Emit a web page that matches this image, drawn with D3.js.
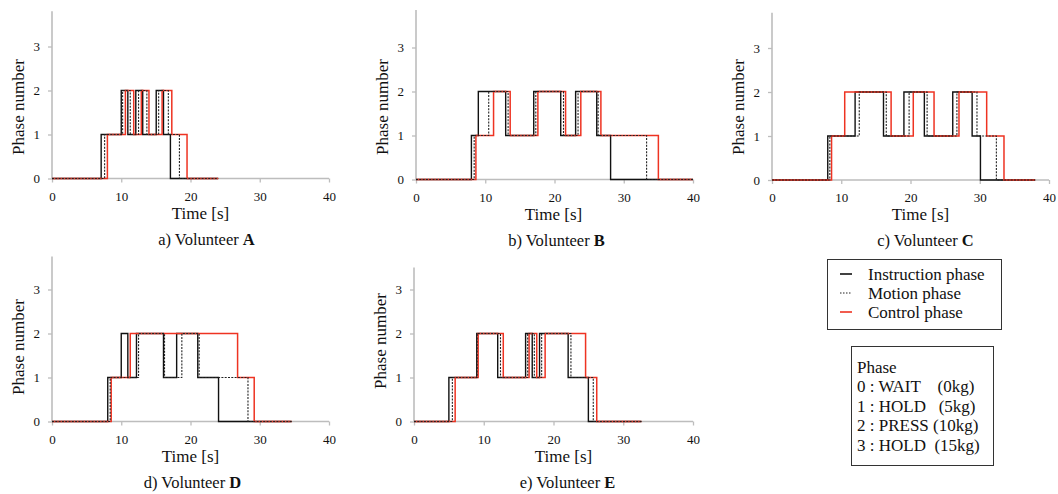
<!DOCTYPE html>
<html><head><meta charset="utf-8">
<script src="https://cdn.jsdelivr.net/npm/d3@7"></script>
<style>
body{margin:0;background:#fff;}
text{font-family:"Liberation Serif","Times New Roman",serif;fill:#111;}
</style></head>
<body><svg id="c" width="1058" height="494"></svg>
<script>
// ---- data: [time (s), phase number] step points ----
const volunteers = ["A", "B", "C", "D", "E"];
const xTicks = [0, 10, 20, 30, 40];
const yTicks = [0, 1, 2, 3];
const seriesNames = ["Instruction phase", "Motion phase", "Control phase"];
const phaseLegend = ["Phase", "0 : WAIT    (0kg)", "1 : HOLD   (5kg)", "2 : PRESS (10kg)", "3 : HOLD  (15kg)"];

const instructionA = [[0,0],[7.1,1],[10.0,2],[10.95,1],[12.1,2],[13.1,1],[15.05,2],[16.1,1],[17.1,0],[24,0]];
const motionA      = [[0,0],[7.6,1],[10.2,2],[11.3,1],[12.5,2],[13.7,1],[15.4,2],[16.8,1],[18.4,0],[24,0]];
const controlA     = [[0,0],[8.0,1],[10.6,2],[11.8,1],[12.9,2],[14.0,1],[15.9,2],[17.3,1],[19.5,0],[24,0]];

const instructionB = [[0,0],[8.0,1],[9.0,2],[12.95,1],[17.0,2],[20.9,1],[23.05,2],[26.1,1],[28.1,0],[40,0]];
const motionB      = [[0,0],[8.4,1],[10.5,2],[13.3,1],[17.3,2],[21.3,1],[23.4,2],[26.3,1],[33.3,0],[40,0]];
const controlB     = [[0,0],[8.65,1],[11.2,2],[13.6,1],[17.6,2],[21.6,1],[23.8,2],[26.7,1],[35.0,0],[40,0]];

const instructionC = [[0,0],[8.05,1],[12.0,2],[16.1,1],[19.05,2],[22.0,1],[26.1,2],[28.9,1],[30.1,0],[38,0]];
const motionC      = [[0,0],[8.35,1],[12.6,2],[16.5,1],[19.8,2],[22.4,1],[26.7,2],[29.6,1],[32.4,0],[38,0]];
const controlC     = [[0,0],[8.6,1],[10.5,2],[17.2,1],[20.4,2],[23.4,1],[27.0,2],[31.0,1],[33.5,0],[38,0]];

const instructionD = [[0,0],[8.05,1],[10.0,2],[10.95,1],[12.2,2],[16.1,1],[18.0,2],[21.05,1],[24.05,0],[34.6,0]];
const motionD      = [[0,0],[8.4,1],[12.5,2],[16.25,1],[18.75,2],[21.25,1],[28.3,0],[34.6,0]];
const controlD     = [[0,0],[8.55,1],[11.3,2],[26.8,1],[29.2,0],[34.6,0]];

const instructionE = [[0,0],[5.0,1],[9.0,2],[12.0,1],[16.0,2],[16.95,1],[18.0,2],[22.1,1],[25.0,0],[32.6,0]];
const motionE      = [[0,0],[5.5,1],[9.05,2],[12.4,1],[16.3,2],[17.25,1],[18.3,2],[22.5,1],[25.7,0],[32.6,0]];
const controlE     = [[0,0],[5.9,1],[9.2,2],[12.8,1],[16.5,2],[17.6,1],[18.8,2],[24.6,1],[26.2,0],[32.6,0]];

const yMaxes = [3.8, 3.85, 3.8, 3.75, 3.5];

// ---- layout ----
const panels = [
  {left:52,  right:329,  y0:178.5, tx:10, cx:16,  ly:107, series:[instructionA, motionA, controlA]},
  {left:416, right:693,  y0:179.5, tx:-1, cx:2,   ly:107, series:[instructionB, motionB, controlB]},
  {left:772, right:1049, y0:180,   tx:10, cx:15,  ly:107, series:[instructionC, motionC, controlC]},
  {left:52,  right:329,  y0:421.5, tx:0,  cx:2,   ly:347, series:[instructionD, motionD, controlD]},
  {left:414, right:693,  y0:421.5, tx:10, cx:14,  ly:341, series:[instructionE, motionE, controlE]}
];
const unit = 44;
const styles = [
  {stroke:"#111", width:1.4, dash:null},
  {stroke:"#222", width:1.1, dash:"2,1.3"},
  {stroke:"#ee3322", width:1.5, dash:null}
];
const drawOrder = [0, 2, 1];
const axisColor = "#bdbdbd";

const svg = d3.select("#c");
svg.append("rect").attr("width",1058).attr("height",494).attr("fill","#fff");

panels.forEach((p, i) => {
  const yMax = yMaxes[i];
  const x = d3.scaleLinear().domain([0, 40]).range([p.left, p.right]);
  const y = d3.scaleLinear().domain([0, yMax]).range([p.y0, p.y0 - yMax * unit]);
  const g = svg.append("g");

  // axes
  const xa = g.append("g").attr("transform", `translate(0,${p.y0})`)
    .call(d3.axisBottom(x).tickValues(xTicks).tickSize(4).tickPadding(6).tickFormat(d3.format("d")));
  const ya = g.append("g").attr("transform", `translate(${p.left},0)`)
    .call(d3.axisLeft(y).tickValues(yTicks).tickSize(4).tickPadding(8).tickFormat(d3.format("d")));
  [xa, ya].forEach(a => {
    a.select(".domain").attr("stroke", axisColor).attr("stroke-width", 1.6)
      .attr("d", a === xa ? `M${p.left},0H${p.right}` : `M0,${p.y0}V${p.y0 - yMax*unit}`);
    a.selectAll(".tick line").attr("stroke", axisColor).attr("stroke-width", 1.3);
    a.selectAll(".tick text").attr("font-size", 13).attr("fill", "#111")
      .attr("font-family", "Liberation Serif, serif");
  });
  xa.selectAll(".tick text").attr("dy", "0.95em");

  // step lines
  const line = d3.line().x(d => x(d[0])).y(d => y(d[1])).curve(d3.curveStepAfter);
  drawOrder.forEach(k => {
    const s = styles[k];
    g.append("path").datum(p.series[k])
      .attr("d", line).attr("fill", "none")
      .attr("stroke", s.stroke).attr("stroke-width", s.width)
      .attr("stroke-dasharray", s.dash);
  });

  // labels
  g.append("text").attr("transform", `translate(${p.left - 34},${p.ly}) rotate(-90)`)
    .attr("text-anchor", "middle").attr("dy", "0.35em").attr("font-size", 17).text("Phase number");
  g.append("text").attr("x", (p.left + p.right) / 2 + p.tx).attr("y", p.y0 + 40)
    .attr("text-anchor", "middle").attr("font-size", 17).text("Time [s]");
  const cap = g.append("text").attr("x", (p.left + p.right) / 2 + p.cx).attr("y", p.y0 + 66)
    .attr("text-anchor", "middle").attr("font-size", 16.5);
  cap.append("tspan").text(String.fromCharCode(97 + i) + ") Volunteer ");
  cap.append("tspan").attr("font-weight", "bold").text(volunteers[i]);
});

// series legend
const lg = svg.append("g");
lg.append("rect").attr("x", 827.5).attr("y", 259.5).attr("width", 174).attr("height", 70)
  .attr("fill", "#fff").attr("stroke", "#333").attr("stroke-width", 1);
seriesNames.forEach((name, k) => {
  const yy = 274 + k * 19;
  const s = styles[k];
  lg.append("line").attr("x1", 840).attr("x2", 852).attr("y1", yy).attr("y2", yy)
    .attr("stroke", s.stroke).attr("stroke-width", k === 1 ? 1 : 1.6)
    .attr("stroke-dasharray", k === 1 ? "1.5,1.5" : null);
  lg.append("text").attr("x", 868).attr("y", yy).attr("dy", "0.33em")
    .attr("font-size", 17).text(name);
});

// phase legend
const pg = svg.append("g");
pg.append("rect").attr("x", 851.5).attr("y", 346.5).attr("width", 142).attr("height", 119)
  .attr("fill", "#fff").attr("stroke", "#333").attr("stroke-width", 1);
phaseLegend.forEach((t, k) => {
  pg.append("text").attr("x", 857).attr("y", 367 + k * 19.6).attr("dy", "0.33em")
    .attr("font-size", 17).attr("xml:space", "preserve").style("white-space", "pre").text(t);
});
</script></body></html>
